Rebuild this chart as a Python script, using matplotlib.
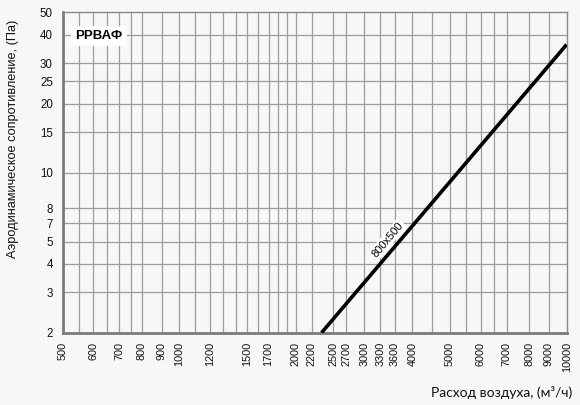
import matplotlib
matplotlib.use("Agg")
import matplotlib.pyplot as plt

# air flow (m3/h) and pressure drop (Pa) for the 800x500 size
flow = [2330, 10000]
pressure = [2.0, 36.2]

x_grid = [550, 600, 650, 700, 750, 800, 900, 1000, 1100, 1200, 1300, 1400,
          1500, 1600, 1700, 1800, 1900, 2000, 2200, 2500, 2700, 3000, 3300,
          3600, 4000, 4500, 5000, 5500, 6000, 6500, 7000, 8000, 9000]
x_ticks = [500, 600, 700, 800, 900, 1000, 1200, 1500, 1700, 2000, 2200, 2500,
           2700, 3000, 3300, 3600, 4000, 5000, 6000, 7000, 8000, 9000, 10000]
y_ticks = [2, 3, 4, 5, 6, 7, 10, 15, 20, 25, 30, 40, 50]
y_labels = ['2', '3', '4', '5', '7', '8', '10', '15', '20', '25', '30', '40', '50']

bg = '#f7f7f7'
fig = plt.figure(figsize=(5.8, 4.05), dpi=100, facecolor=bg)
ax = fig.add_axes([0.108, 0.1785, 0.869, 0.791], facecolor=bg)
ax.set_xscale('log')
ax.set_yscale('log')
ax.set_xlim(500, 10000)
ax.set_ylim(2, 50)

# grid lines drawn by hand so the set matches the original chart
for v in x_grid:
    ax.axvline(v, color='#9c9c9c', lw=0.9, zorder=1)
for v in y_ticks[1:-1]:
    ax.axhline(v, color='#9c9c9c', lw=0.9, zorder=1)

ax.set_xticks(x_ticks)
ax.set_xticklabels([str(t) for t in x_ticks], rotation=90)
ax.set_xticks([], minor=True)
ax.set_yticks(y_ticks)
ax.set_yticklabels(y_labels)
ax.set_yticks([], minor=True)
ax.tick_params(length=0, colors='#111111', pad=6.5)
ax.tick_params(axis='x', labelsize=7.8)
ax.tick_params(axis='y', labelsize=8.3, pad=7)
for lab in ax.get_xticklabels() + ax.get_yticklabels():
    lab.set_family('Liberation Sans')

for side in ['left', 'bottom']:
    ax.spines[side].set_color('#7a7a7a')
    ax.spines[side].set_linewidth(2)
for side in ['top', 'right']:
    ax.spines[side].set_color('#8a8a8a')
    ax.spines[side].set_linewidth(1)

ax.plot(flow, pressure, color='black', lw=2.6, zorder=3, solid_capstyle='butt')
ax.text(3450, 5.1, '800x500', rotation=50, ha='center', va='center',
        fontsize=8, family='Liberation Sans', zorder=4,
        bbox=dict(facecolor='white', edgecolor='none', pad=1))

ax.text(0.072, 0.926, 'РРВАФ', transform=ax.transAxes, ha='center', va='center',
        fontsize=9.5, fontweight='bold', family='Liberation Sans', zorder=4,
        bbox=dict(facecolor='white', edgecolor='none', pad=3))

fig.text(0.022, 0.657, 'Аэродинамическое сопротивление, (Па)', rotation=90,
         ha='center', va='center', fontsize=9.2, family='Liberation Sans',
         color='#111111')
fig.text(0.987, 0.03, 'Расход воздуха, (м³/ч)', ha='right', va='center',
         fontsize=10, family=['Lato', 'DejaVu Sans'], color='#111111')

fig.savefig('out.png', dpi=100, facecolor=bg)
